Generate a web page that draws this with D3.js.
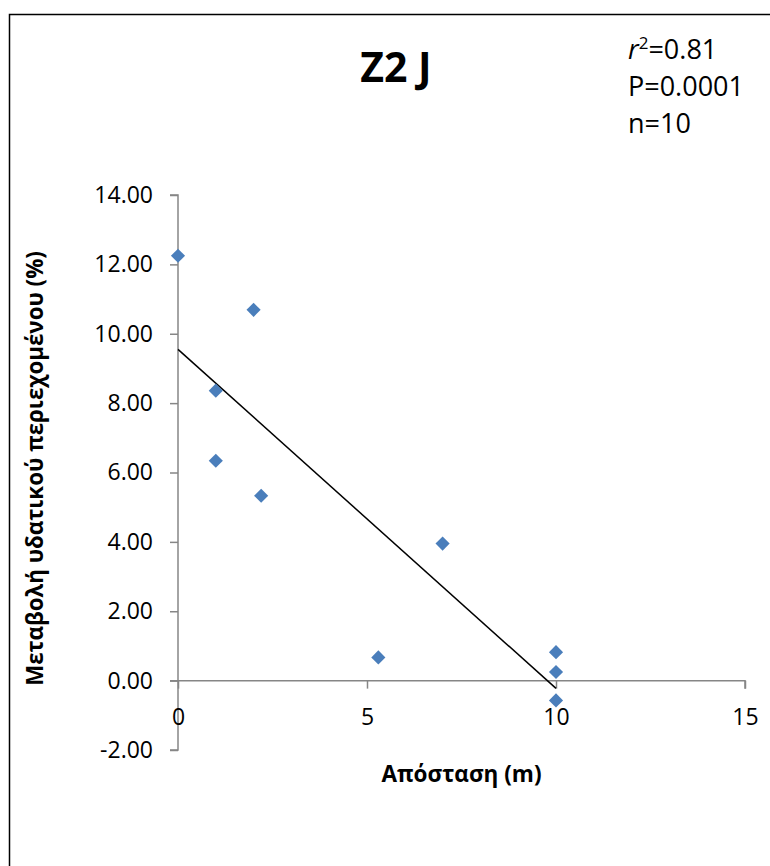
<!DOCTYPE html>
<html>
<head>
<meta charset="utf-8">
<script src="https://cdn.jsdelivr.net/npm/d3@7"></script>
<style>
    body { margin: 0; background: #fff; }
    svg { display: block; font-family: "Open Sans", sans-serif; }
</style>
</head>
<body>
<div id="chart"></div>
<script>
// Data
const distance = [0, 2, 1, 1, 2.2, 7, 5.3, 10, 10, 10];
const waterChange = [12.25, 10.69, 8.36, 6.34, 5.33, 3.95, 0.67, 0.82, 0.25, -0.57];
const xTicks = [0, 5, 10, 15];
const yTicks = [-2, 0, 2, 4, 6, 8, 10, 12, 14];
const statLines = ['=0.81', 'P=0.0001', 'n=10'];

const width = 770, height = 866;
const plot = { left: 178, right: 745, top: 195, bottom: 750 };

const svg = d3.select('#chart')
    .append('svg')
    .attr('width', width)
    .attr('height', height);

// chart frame (runs off the right and bottom edges)
svg.append('rect')
    .attr('x', 9.5).attr('y', 14.5)
    .attr('width', 900).attr('height', 900)
    .attr('fill', 'none')
    .attr('stroke', '#000')
    .attr('stroke-width', 1.5);

const x = d3.scaleLinear().domain([0, 15]).range([plot.left, plot.right]);
const y = d3.scaleLinear().domain([-2, 14]).range([plot.bottom, plot.top]);

const axisColor = '#868686';
// Excel style numbers: plain hyphen for negatives
const fmt2 = v => d3.format('.2f')(v).replace('−', '-');

// y axis
const yAxis = svg.append('g')
    .attr('transform', `translate(${plot.left},0)`)
    .call(d3.axisLeft(y).tickValues(yTicks).tickSize(8).tickPadding(17)
        .tickFormat(fmt2));
yAxis.select('.domain').attr('d', `M-8,${y(14)}H0V${y(-2)}H-8`);

// x axis crosses at y = 0
const xAxis = svg.append('g')
    .attr('transform', `translate(0,${y(0)})`)
    .call(d3.axisBottom(x).tickValues(xTicks).tickSize(8).tickPadding(20)
        .tickFormat(d3.format('d')));
xAxis.select('.domain').attr('d', `M${plot.left - 8},0H${plot.right}V8`);

svg.selectAll('.domain, .tick line')
    .attr('stroke', axisColor)
    .attr('stroke-width', 1.5);
svg.selectAll('.tick text')
    .attr('fill', '#000')
    .style('font-size', '23px')
    .style('font-family', '"Open Sans", sans-serif');

// linear trend line (least squares over the data range)
const mx = d3.mean(distance), my = d3.mean(waterChange);
const slope = d3.sum(distance, (d, i) => (d - mx) * (waterChange[i] - my)) /
    d3.sum(distance, d => (d - mx) * (d - mx));
const intercept = my - slope * mx;
const xr = d3.extent(distance);

svg.append('line')
    .attr('x1', x(xr[0])).attr('y1', y(intercept + slope * xr[0]))
    .attr('x2', x(xr[1])).attr('y2', y(intercept + slope * xr[1]))
    .attr('stroke', '#000')
    .attr('stroke-width', 1.5);

// diamond markers
svg.selectAll('path.point')
    .data(distance.map((d, i) => ({ x: d, y: waterChange[i] })))
    .join('path')
    .attr('class', 'point')
    .attr('d', d3.symbol(d3.symbolSquare, 100))
    .attr('transform', d => `translate(${x(d.x)},${y(d.y)}) rotate(45)`)
    .attr('fill', '#4a7ebb');

// title
svg.append('text')
    .attr('x', 396).attr('y', 82)
    .attr('text-anchor', 'middle')
    .style('font-size', '41px')
    .style('font-weight', 'bold')
    .text('Z2 J');

// statistics block
const stats = svg.append('g').style('font-size', '27px');
statLines.forEach((s, i) => {
    const t = stats.append('text')
        .attr('x', 628).attr('y', 59 + i * 37);
    if (i === 0) {
        t.append('tspan').style('font-style', 'italic').text('r');
        t.append('tspan').attr('dy', -10).style('font-size', '17px').text('2');
        t.append('tspan').attr('dy', 10).text(s);
    } else {
        t.text(s);
    }
});

// axis titles
svg.append('text')
    .attr('x', (plot.left + plot.right) / 2).attr('y', 782)
    .attr('text-anchor', 'middle')
    .style('font-size', '22.5px')
    .style('font-weight', 'bold')
    .text('Απόσταση (m)');

svg.append('text')
    .attr('transform', `translate(43,${(plot.top + plot.bottom) / 2 - 4}) rotate(-90)`)
    .attr('text-anchor', 'middle')
    .style('font-size', '22.3px')
    .style('font-weight', 'bold')
    .text('Μεταβολή υδατικού περιεχομένου (%)');
</script>
</body>
</html>
